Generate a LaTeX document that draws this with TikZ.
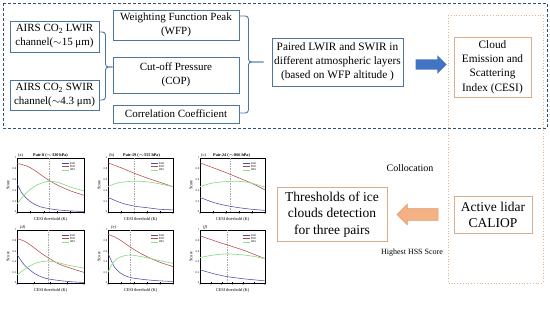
\documentclass[tikz,border=0pt]{standalone}
\usepackage{fontspec}
\setmainfont{Liberation Serif}
\usetikzlibrary{arrows.meta,calc,positioning,shapes.arrows}

\definecolor{boxblue}{HTML}{4A76A0}
\definecolor{dashnavy}{HTML}{2E4E7E}
\definecolor{arrowblue}{HTML}{4472C4}
\definecolor{tanline}{HTML}{D9AD8A}
\definecolor{dotline}{HTML}{E2B48C}
\definecolor{salmon}{HTML}{F4B183}
\definecolor{salmonline}{HTML}{E39A6E}
\definecolor{farcol}{HTML}{4B4BA6}
\definecolor{podcol}{HTML}{B2494C}
\definecolor{hsscol}{HTML}{90DC8C}

\tikzset{
  bluebox/.style={draw=boxblue, line width=0.9pt, align=center, inner sep=0pt,
    font=\fontsize{11}{14}\selectfont},
  tanbox/.style={draw=tanline, line width=1pt, align=center, inner sep=0pt},
  brace/.style={draw=boxblue, line width=0.9pt, rounded corners=3pt},
  fatarrow/.style={single arrow, inner xsep=0pt, single arrow head indent=0pt},
  axframe/.style={line width=0.3pt},
  ticklab/.style={font=\fontsize{2.8}{3}\selectfont, inner sep=0.6pt, text=black},
  axlab/.style={font=\fontsize{4.3}{5}\selectfont, inner sep=0pt},
  ptitle/.style={font=\fontsize{4.2}{5}\selectfont\bfseries, inner sep=0pt},
  far/.style={farcol, line width=0.55pt},
  pod/.style={podcol, line width=0.55pt},
  hss/.style={hsscol, line width=0.7pt},
  thr/.style={gray!70, line width=0.3pt, dash pattern=on 1.5pt off 1pt},
}

\begin{document}
\begin{tikzpicture}[x=1pt,y=-1pt]
\useasboundingbox (0,0) rectangle (550,309);
% upper frame: AIRS channels and index
\draw[dashnavy, line width=0.8pt, dash pattern=on 3pt off 2pt] (3,3) rectangle (547,128);
\draw[dotline, line width=0.8pt, dotted] (448,15) rectangle (543,283);

\node[bluebox, minimum width=89, minimum height=31] (lwir) at (54.5,36.5) {AIRS CO\textsubscript{2} LWIR\\channel($\sim$15 μm)};
\node[bluebox, minimum width=89, minimum height=30] (swir) at (54.5,95) {AIRS CO\textsubscript{2} SWIR\\channel($\sim$4.3 μm)};
\node[bluebox, minimum width=126, minimum height=30] (wfp) at (176,25) {Weighting Function Peak\\(WFP)};
\node[bluebox, minimum width=126, minimum height=36] (cop) at (176,75) {Cut-off Pressure\\(COP)};
\node[bluebox, minimum width=126, minimum height=18] (corr) at (176,114) {Correlation Coefficient};
\node[bluebox, minimum width=131, minimum height=48, font=\fontsize{11.3}{14}\selectfont] (paired) at (337.5,62) {Paired LWIR and SWIR in\\different atmospheric layers\\(based on WFP altitude )};
\node[tanbox, minimum width=77, minimum height=60, font=\fontsize{11.3}{14.2}\selectfont] (cesi) at (492.5,67) {Cloud\\Emission and\\Scattering\\Index (CESI)};

\draw[brace] ($(lwir.east)+(0,-4.5)$) -- ++(6,0) |- ($(cop.west)+(0,-8)$);
\draw[brace] ($(swir.east)+(0,5)$) -- ++(6,0) |- ($(cop.west)+(0,-8)$);
\coordinate (pairin) at ($(paired.west)+(-8,0)$);
\draw[brace] ($(wfp.east)+(0,-9)$) -- ++(9,0) |- (pairin);
\draw[brace] ($(corr.east)+(0,-1)$) -- ++(9,0) |- (pairin);
\path (paired.east) -- (cesi.west) node[midway, fatarrow, fill=arrowblue, minimum height=31, inner ysep=5pt, single arrow head extend=4pt] (toCESI) {};

% lower part: lidar and thresholds
\node[tanbox, minimum width=110, minimum height=54, font=\fontsize{13.5}{16.3}\selectfont] (thr) at (332,214.5) {Thresholds of ice\\clouds detection\\for three pairs};
\node[tanbox, minimum width=78, minimum height=37, font=\fontsize{13.5}{16}\selectfont] (cal) at (493,214.5) {Active lidar\\CALIOP};
\path (cal.west) -- (thr.east) node[midway, fatarrow, shape border rotate=180, fill=salmon, draw=salmonline, line width=0.6pt, minimum height=41, inner ysep=5.5pt, single arrow head extend=4.5pt] (toThr) {};
\node[font=\fontsize{10}{12}\selectfont] (colloc) at (410,168) {Collocation};
\node[font=\fontsize{8}{10}\selectfont] (hssnote) at (412,253) {Highest HSS Score};

% score panels
\begin{scope}[shift={(17,212)}, x=13.4pt, y=54pt]
\draw[axframe] (0,0) rectangle (5,1);
\foreach \t in {0,...,5} {\draw[axframe] (\t,0) -- ++(0,1.2pt); \node[ticklab,below] at (\t,0) {\t};}
\foreach \s in {0,0.2,0.4,0.6,0.8,1} {\draw[axframe] (0,\s) -- ++(1.2pt,0); \node[ticklab,left] at (0,\s) {\s};}
\draw[thr] (2.4,0) -- (2.4,1);
\draw[far] plot[smooth] coordinates {(0,0.53) (0.25,0.40) (0.5,0.31) (1,0.19) (1.5,0.12) (2,0.08) (3,0.04) (4,0.02) (5,0.01)};
\draw[pod] plot[smooth] coordinates {(0,0.90) (0.5,0.87) (1,0.82) (1.5,0.74) (2,0.65) (2.5,0.57) (3,0.5) (4,0.39) (5,0.31)};
\draw[hss] plot[smooth] coordinates {(0,0.15) (0.5,0.3) (1,0.42) (1.5,0.5) (2,0.55) (2.5,0.57) (3,0.55) (3.5,0.51) (4,0.46) (5,0.39)};
\foreach \st/\lab [count=\i] in {far/FAR,pod/POD,hss/HSS}
  \draw[\st] (5,1) ++(-22pt,{-1.7pt-3.4pt*\i}) -- ++(7pt,0) node[ticklab,right] {\lab};
\node[axlab,below=5pt] at (2.5,0) {CESI threshold (K)};
\node[axlab,rotate=90] at ($(0,0.5)+(-9pt,0)$) {Score};
\node[axlab,anchor=south west] at ($(0,1)+(1pt,0.5pt)$) {(a)};
\node[ptitle,anchor=south west] at ($(0,1)+(16pt,0.5pt)$) {Pair-8 ($\sim$330 hPa)};
\end{scope}

\begin{scope}[shift={(108,212)}, x=13pt, y=54pt, shift={(-1,0)}]
\draw[axframe] (1,0) rectangle (6,1);
\foreach \t in {1,...,6} {\draw[axframe] (\t,0) -- ++(0,1.2pt); \node[ticklab,below] at (\t,0) {\t};}
\foreach \s in {0,0.2,0.4,0.6,0.8,1} {\draw[axframe] (1,\s) -- ++(1.2pt,0); \node[ticklab,left] at (1,\s) {\s};}
\draw[thr] (3,0) -- (3,1);
\draw[far] plot[smooth] coordinates {(1,0.27) (2,0.17) (3,0.11) (4,0.08) (5,0.05) (6,0.04)};
\draw[pod] plot[smooth] coordinates {(1,0.91) (2,0.82) (3,0.72) (4,0.63) (5,0.55) (6,0.47)};
\draw[hss] plot[smooth] coordinates {(1,0.47) (1.5,0.52) (2,0.55) (3,0.57) (4,0.56) (5,0.52) (6,0.47)};
\foreach \st/\lab [count=\i] in {far/FAR,pod/POD,hss/HSS}
  \draw[\st] (6,1) ++(-22pt,{-1.7pt-3.4pt*\i}) -- ++(7pt,0) node[ticklab,right] {\lab};
\node[axlab,below=5pt] at (3.5,0) {CESI threshold (K)};
\node[axlab,rotate=90] at ($(1,0.5)+(-9pt,0)$) {Score};
\node[axlab,anchor=south west] at ($(1,1)+(1pt,0.5pt)$) {(b)};
\node[ptitle,anchor=south west] at ($(1,1)+(15pt,0.5pt)$) {Pair-19 ($\sim$555 hPa)};
\end{scope}

\begin{scope}[shift={(200,212)}, x=4.333pt, y=54pt]
\draw[axframe] (0,0) rectangle (15,1);
\foreach \t in {0,3,...,15} {\draw[axframe] (\t,0) -- ++(0,1.2pt); \node[ticklab,below] at (\t,0) {\t};}
\foreach \s in {0,0.2,0.4,0.6,0.8,1} {\draw[axframe] (0,\s) -- ++(1.2pt,0); \node[ticklab,left] at (0,\s) {\s};}
\draw[thr] (6.9,0) -- (6.9,1);
\draw[far] plot[smooth] coordinates {(0,0.27) (3,0.18) (6,0.12) (9,0.08) (12,0.05) (15,0.03)};
\draw[pod] plot[smooth] coordinates {(0,0.91) (3,0.82) (6,0.73) (9,0.63) (12,0.53) (15,0.41)};
\draw[hss] plot[smooth] coordinates {(0,0.47) (2,0.52) (4,0.55) (8,0.57) (11,0.55) (13,0.51) (15,0.46)};
\foreach \st/\lab [count=\i] in {far/FAR,pod/POD,hss/HSS}
  \draw[\st] (15,1) ++(-22pt,{-1.7pt-3.4pt*\i}) -- ++(7pt,0) node[ticklab,right] {\lab};
\node[axlab,below=5pt] at (7.5,0) {CESI threshold (K)};
\node[axlab,rotate=90] at ($(0,0.5)+(-9pt,0)$) {Score};
\node[axlab,anchor=south west] at ($(0,1)+(1pt,0.5pt)$) {(c)};
\node[ptitle,anchor=south west] at ($(0,1)+(13pt,0.5pt)$) {Pair-24 ($\sim$866 hPa)};
\end{scope}

\begin{scope}[shift={(17,283)}, x=16.75pt, y=53pt]
\draw[axframe] (0,0) rectangle (4,1);
\foreach \t in {0,...,4} {\draw[axframe] (\t,0) -- ++(0,1.2pt); \node[ticklab,below] at (\t,0) {\t};}
\foreach \s in {0,0.2,0.4,0.6,0.8,1} {\draw[axframe] (0,\s) -- ++(1.2pt,0); \node[ticklab,left] at (0,\s) {\s};}
\draw[thr] (1.85,0) -- (1.85,1);
\draw[far] plot[smooth] coordinates {(0,0.54) (0.25,0.42) (0.5,0.32) (1,0.19) (1.5,0.11) (2,0.07) (3,0.03) (4,0.01)};
\draw[pod] plot[smooth] coordinates {(0,0.84) (0.5,0.78) (1,0.67) (1.5,0.55) (2,0.45) (2.5,0.36) (3,0.3) (4,0.2)};
\draw[hss] plot[smooth] coordinates {(0,0.15) (0.5,0.27) (1,0.36) (1.5,0.405) (1.85,0.415) (2.5,0.38) (3,0.34) (4,0.28)};
\foreach \st/\lab [count=\i] in {far/FAR,pod/POD,hss/HSS}
  \draw[\st] (4,1) ++(-22pt,{-1.7pt-3.4pt*\i}) -- ++(7pt,0) node[ticklab,right] {\lab};
\node[axlab,below=5pt] at (2,0) {CESI threshold (K)};
\node[axlab,rotate=90] at ($(0,0.5)+(-9pt,0)$) {Score};
\node[axlab,anchor=south west] at ($(0,1)+(3pt,0pt)$) {\itshape(d)};
\end{scope}

\begin{scope}[shift={(108,283)}, x=13pt, y=53pt]
\draw[axframe] (0,0) rectangle (5,1);
\foreach \t in {0,...,5} {\draw[axframe] (\t,0) -- ++(0,1.2pt); \node[ticklab,below] at (\t,0) {\t};}
\foreach \s in {0,0.2,0.4,0.6,0.8,1} {\draw[axframe] (0,\s) -- ++(1.2pt,0); \node[ticklab,left] at (0,\s) {\s};}
\draw[thr] (1.7,0) -- (1.7,1);
\draw[far] plot[smooth] coordinates {(0,0.56) (0.2,0.45) (0.5,0.3) (1,0.18) (1.5,0.12) (2,0.09) (3,0.06) (4,0.04) (5,0.03)};
\draw[pod] plot[smooth] coordinates {(0,0.92) (0.5,0.87) (1,0.8) (1.7,0.68) (2.5,0.56) (3.5,0.44) (4,0.39) (5,0.31)};
\draw[hss] plot[smooth] coordinates {(0,0.2) (0.3,0.35) (0.7,0.46) (1.2,0.51) (1.7,0.53) (2.5,0.5) (3.5,0.45) (4,0.42) (5,0.37)};
\foreach \st/\lab [count=\i] in {far/FAR,pod/POD,hss/HSS}
  \draw[\st] (5,1) ++(-22pt,{-1.7pt-3.4pt*\i}) -- ++(7pt,0) node[ticklab,right] {\lab};
\node[axlab,below=5pt] at (2.5,0) {CESI threshold (K)};
\node[axlab,rotate=90] at ($(0,0.5)+(-9pt,0)$) {Score};
\node[axlab,anchor=south west] at ($(0,1)+(3pt,0pt)$) {\itshape(e)};
\end{scope}

\begin{scope}[shift={(200,283)}, x=10.833pt, y=53pt, shift={(-2,0)}]
\draw[axframe] (2,0) rectangle (8,1);
\foreach \t in {2,...,8} {\draw[axframe] (\t,0) -- ++(0,1.2pt); \node[ticklab,below] at (\t,0) {\t};}
\foreach \s in {0,0.2,0.4,0.6,0.8,1} {\draw[axframe] (2,\s) -- ++(1.2pt,0); \node[ticklab,left] at (2,\s) {\s};}
\draw[thr] (4.5,0) -- (4.5,1);
\draw[far] plot[smooth] coordinates {(2,0.25) (3,0.19) (4,0.14) (4.5,0.12) (6,0.08) (7,0.06) (8,0.04)};
\draw[pod] plot[smooth] coordinates {(2,0.89) (3,0.82) (4,0.75) (4.5,0.72) (6,0.62) (7,0.54) (8,0.46)};
\draw[hss] plot[smooth] coordinates {(2,0.48) (3,0.52) (4,0.545) (4.5,0.55) (6,0.53) (7,0.5) (8,0.46)};
\foreach \st/\lab [count=\i] in {far/FAR,pod/POD,hss/HSS}
  \draw[\st] (8,1) ++(-22pt,{-1.7pt-3.4pt*\i}) -- ++(7pt,0) node[ticklab,right] {\lab};
\node[axlab,below=5pt] at (5,0) {CESI threshold (K)};
\node[axlab,rotate=90] at ($(2,0.5)+(-9pt,0)$) {Score};
\node[axlab,anchor=south west] at ($(2,1)+(3pt,0pt)$) {\itshape(f)};
\end{scope}
\end{tikzpicture}
\end{document}
